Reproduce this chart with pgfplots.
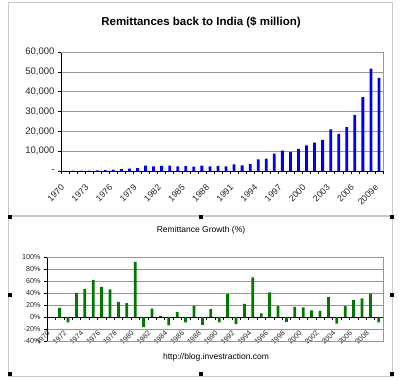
\documentclass[border=0pt]{standalone}
\usepackage{pgfplots}
\pgfplotsset{compat=1.18}
\usepackage{fontspec}
\setmainfont{Liberation Sans}
\definecolor{xlblue}{RGB}{0,0,240}
\definecolor{xlgreen}{RGB}{0,120,0}
\definecolor{framegray}{RGB}{200,200,200}
\definecolor{gridgray}{RGB}{150,150,150}
\begin{document}
\begin{tikzpicture}
\useasboundingbox (0,0) rectangle (400bp,380bp);
\fill[white] (0,0) rectangle (400bp,380bp);
% chart frames
\draw[framegray, line width=0.8bp] (8bp,378bp) rectangle (392bp,165bp);
\draw[framegray, line width=0.8bp] (8bp,164bp) rectangle (392bp,4bp);
% titles
\node[font=\bfseries\fontsize{11.5bp}{13bp}\selectfont] at (201bp,358bp) {Remittances back to India (\$ million)};
\node[font=\fontsize{8.5bp}{10bp}\selectfont] at (201bp,150bp) {Remittance Growth (\%)};
\node[font=\fontsize{8.5bp}{10bp}\selectfont] at (216bp,23bp) {http://blog.investraction.com};

% ---------- top chart ----------
\begin{axis}[
  scale only axis, width=322bp, height=119bp,
  at={(61bp,209bp)}, anchor=south west,
  xmin=-0.5, xmax=39.5, ymin=0, ymax=60000,
  axis x line*=bottom, axis y line*=left,
  axis line style={black, line width=0.6bp},
  tick align=outside,
  xtick={0,3,...,39},
  xticklabels={1970,1973,1976,1979,1982,1985,1988,1991,1994,1997,2000,2003,2006,2009e},
  major x tick style={draw=none},
  minor xtick={-0.5,0.5,...,39.5},
  minor tick length=3bp,
  minor x tick style={black, line width=0.5bp},
  ytick={0,10000,20000,30000,40000,50000,60000},
  yticklabels={-\hspace{9bp},{10,000},{20,000},{30,000},{40,000},{50,000},{60,000}},
  major tick length=3bp,
  major y tick style={black, line width=0.5bp},
  scaled y ticks=false,
  ymajorgrids, major grid style={gridgray, line width=0.5bp},
  yticklabel style={font=\fontsize{9.5bp}{11bp}\selectfont, text=black!85},
  xticklabel style={font=\fontsize{8.8bp}{10bp}\selectfont, text=black!85, xshift=-4.5bp, yshift=-5bp, rotate=45, anchor=north east},
  clip=false,
]
\draw[gridgray, line width=0.5bp] (rel axis cs:0,1) -- (rel axis cs:1,1) -- (rel axis cs:1,0);
\addplot[ybar, bar width=2.8bp, fill=xlblue, draw=none] coordinates {
(0,122) (1,140) (2,128) (3,179) (4,263) (5,426) (6,641) (7,934) (8,1165) (9,1437)
(10,2757) (11,2301) (12,2617) (13,2660) (14,2295) (15,2469) (16,2240) (17,2665) (18,2315) (19,2614)
(20,2384) (21,3289) (22,2897) (23,3523) (24,5857) (25,6223) (26,8766) (27,10331) (28,9479) (29,11124)
(30,12890) (31,14273) (32,15736) (33,20999) (34,18750) (35,22125) (36,28334) (37,37217) (38,51581) (39,47000)
};
\end{axis}

% ---------- bottom chart ----------
\begin{axis}[
  scale only axis, width=336bp, height=84bp,
  at={(47bp,39bp)}, anchor=south west,
  xmin=-0.5, xmax=39.5, ymin=-40, ymax=100,
  axis x line*=middle, axis y line*=left,
  axis line style={black, line width=0.6bp},
  tick align=outside,
  xtick={0,2,...,38},
  xticklabels={1970,1972,1974,1976,1978,1980,1982,1984,1986,1988,1990,1992,1994,1996,1998,2000,2002,2004,2006,2008},
  major x tick style={draw=none},
  minor xtick={-0.5,0.5,...,39.5},
  minor tick length=3bp,
  minor x tick style={black, line width=0.5bp},
  ytick={-40,-20,0,20,40,60,80,100},
  yticklabels={-40\%,-20\%,0\%,20\%,40\%,60\%,80\%,100\%},
  major tick length=3bp,
  major y tick style={black, line width=0.5bp},
  ymajorgrids, major grid style={gridgray, line width=0.5bp},
  yticklabel style={font=\fontsize{7.2bp}{8.5bp}\selectfont, text=black!85},
  xticklabel style={font=\fontsize{7.2bp}{8.5bp}\selectfont, text=black!85, xshift=-4.5bp, yshift=-5bp, rotate=45, anchor=north east},
  clip=false,
]
\draw[gridgray, line width=0.5bp] (rel axis cs:0,0) -- (rel axis cs:1,0) -- (rel axis cs:1,1) -- (rel axis cs:0,1);
\addplot[ybar, bar width=2.8bp, fill=xlgreen, draw=none] coordinates {
(1,15) (2,-9) (3,40) (4,47) (5,62) (6,50) (7,46) (8,25) (9,23)
(10,92) (11,-17) (12,14) (13,2) (14,-14) (15,8) (16,-9) (17,19) (18,-13) (19,13)
(20,-9) (21,38) (22,-12) (23,22) (24,66) (25,6) (26,41) (27,18) (28,-8) (29,17)
(30,16) (31,11) (32,10) (33,33) (34,-11) (35,18) (36,28) (37,31) (38,39) (39,-9)
};
\end{axis}

% selection handles
\foreach \hx/\hy in {10/163,201/163,392/163,10/85,392/85,10/6,201/6,392/6}
  \fill[black] ({\hx bp-1.7bp},{\hy bp-1.7bp}) rectangle ++(3.4bp,3.4bp);
\end{tikzpicture}
\end{document}
